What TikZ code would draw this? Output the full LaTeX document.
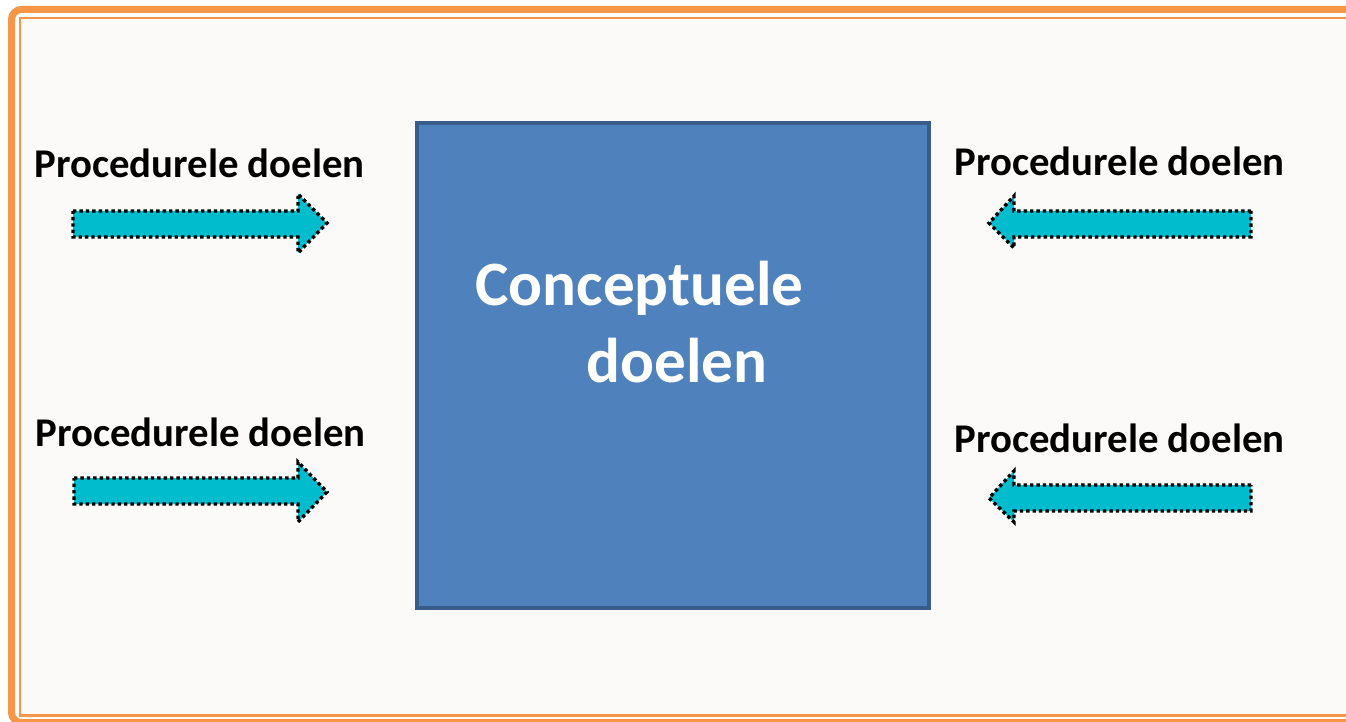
\documentclass[tikz,border=0pt]{standalone}
\usepackage{fontspec}
\setmainfont{Carlito}
\usetikzlibrary{positioning}
\definecolor{frameorange}{RGB}{247,150,70}
\definecolor{paperbg}{RGB}{251,250,248}
\definecolor{boxblue}{RGB}{79,129,189}
\definecolor{boxedge}{RGB}{56,93,138}
\definecolor{arrcyan}{RGB}{0,188,204}
\tikzset{
  proclbl/.style={anchor=base west, inner sep=0pt, font=\bfseries\fontsize{20.4}{24}\selectfont},
  conclbl/.style={anchor=base west, inner sep=0pt, text=white, font=\bfseries\fontsize{31.6}{38}\selectfont},
  darrow/.style={fill=arrcyan, draw=black, line width=1.7pt, dash pattern=on 1.7pt off 1.5pt, line join=miter},
}
\begin{document}
\begin{tikzpicture}[x=0.5pt, y=-0.5pt]
    \useasboundingbox (0,0) rectangle (1346,722);
    \fill[white] (0,0) rectangle (1346,722);
    % frame (open to the right)
    \fill[paperbg] (20,18) rectangle (1346,715.5);
    \draw[frameorange, line width=3.5pt, rounded corners=5pt] (1346,9.5) -- (11.5,9.5) -- (11.5,722.5) -- (1346,722.5);
    \draw[frameorange, line width=1.2pt] (1346,18) -- (20,18) -- (20,715.5) -- (1346,715.5);
    % main block
    \node[draw=boxedge, fill=boxblue, line width=2pt, minimum width=256pt, minimum height=242.25pt,
          inner sep=0pt, anchor=north west] (concept) at (415,121) {};
    \node[conclbl] (ctop) at (475,306) {Conceptuele};
    \node[conclbl] (cbot) at (586,382) {doelen};
    % labels
    \node[proclbl] (plt) at (34,177) {Procedurele doelen};
    \node[proclbl] (plb) at (35,446) {Procedurele doelen};
    \node[proclbl] (prt) at (954,176) {Procedurele doelen};
    \node[proclbl] (prb) at (954,452) {Procedurele doelen};
    % arrows pointing at the block
    \draw[darrow] (73,211) -- (298,211) -- (298,194) -- (327,223) -- (298,253) -- (298,237) -- (73,237) -- cycle;
    \draw[darrow] (74,478) -- (298,478) -- (298,462) -- (327,492) -- (298,522) -- (298,504) -- (74,504) -- cycle;
    \draw[darrow] (1251,211) -- (1014,211) -- (1014,196) -- (989,223) -- (1014,248) -- (1014,237) -- (1251,237) -- cycle;
    \draw[darrow] (1251,485) -- (1014,485) -- (1014,471) -- (989,498) -- (1014,522) -- (1014,511) -- (1251,511) -- cycle;
\end{tikzpicture}
\end{document}
